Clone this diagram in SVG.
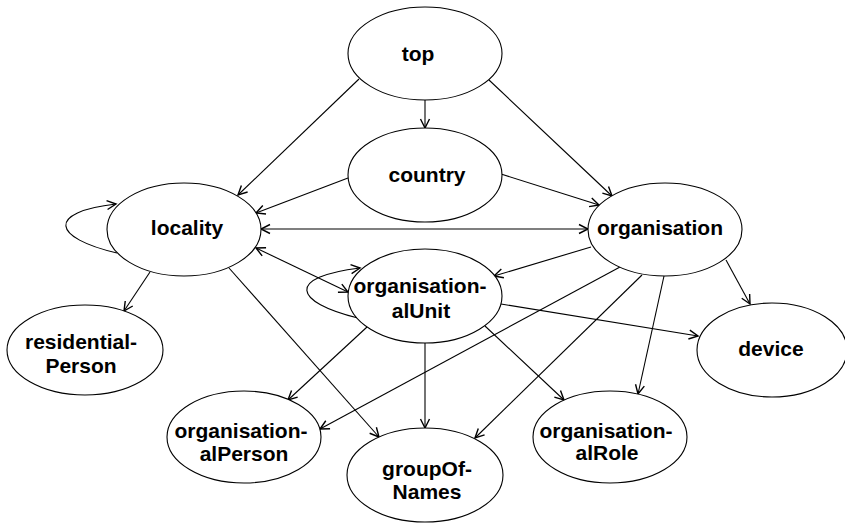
<svg xmlns="http://www.w3.org/2000/svg" width="845" height="523" viewBox="0 0 845 523">
<style>
.n ellipse{fill:#fff;stroke:#000;stroke-width:1.1}
.n text{font-family:"Liberation Sans",Arial,Helvetica,sans-serif;font-weight:bold;font-size:21px;text-anchor:middle;fill:#000}
.e path{fill:none;stroke:#000;stroke-width:1.1}
</style>
<defs>
<marker id="a" markerUnits="userSpaceOnUse" markerWidth="14" markerHeight="12" viewBox="-11 -6 13 12" refX="0" refY="0" orient="auto-start-reverse">
<path d="M-9,-4.5 L0,0 L-9,4.5" fill="none" stroke="#000" stroke-width="1.4"/>
</marker>
</defs>
<rect width="845" height="523" fill="#fff"/>
<g id="connectors" class="e">
<path d="M425,100 L425,128" marker-end="url(#a)"/>
<path d="M359,79 L238,195" marker-end="url(#a)"/>
<path d="M489,80 L612,196" marker-end="url(#a)"/>
<path d="M348,178 L256,213" marker-end="url(#a)"/>
<path d="M501,174 L599,205" marker-end="url(#a)"/>
<path d="M261,229 L588,229" marker-start="url(#a)" marker-end="url(#a)"/>
<path d="M256,248 L348,292" marker-start="url(#a)" marker-end="url(#a)"/>
<path d="M117,253 C52,238 46,212 116,204" marker-end="url(#a)"/>
<path d="M358,318 C293,302 286,277 360,268" marker-end="url(#a)"/>
<path d="M591,247 L494,276" marker-end="url(#a)"/>
<path d="M726,260 L750,304" marker-end="url(#a)"/>
<path d="M620,267 L320,429" marker-end="url(#a)"/>
<path d="M642,275 L475,438" marker-end="url(#a)"/>
<path d="M664,276 L638,394" marker-end="url(#a)"/>
<path d="M501,304 L698,336" marker-end="url(#a)"/>
<path d="M367,327 L288,400" marker-end="url(#a)"/>
<path d="M425,343 L425,428" marker-end="url(#a)"/>
<path d="M485,326 L564,400" marker-end="url(#a)"/>
<path d="M150,272 L124,311" marker-end="url(#a)"/>
<path d="M229,268 L379,437" marker-end="url(#a)"/>
</g>
<g id="top" class="n"><ellipse cx="425" cy="53.5" rx="77" ry="46.5"/><text x="418" y="61">top</text></g>
<g id="country" class="n"><ellipse cx="425" cy="175" rx="77" ry="47"/><text x="427" y="182">country</text></g>
<g id="locality" class="n"><ellipse cx="184" cy="229.5" rx="77" ry="46.5"/><text x="187" y="235">locality</text></g>
<g id="organisation" class="n"><ellipse cx="665" cy="229.5" rx="77" ry="46.5"/><text x="660" y="235">organisation</text></g>
<g id="organisationalUnit" class="n"><ellipse cx="425" cy="296" rx="77" ry="47"/><text x="420" y="293">organisation-</text><text x="421" y="318">alUnit</text></g>
<g id="residentialPerson" class="n"><ellipse cx="85" cy="350" rx="78" ry="45"/><text x="81" y="349">residential-</text><text x="81" y="373">Person</text></g>
<g id="device" class="n"><ellipse cx="772" cy="350" rx="75" ry="47"/><text x="771" y="356">device</text></g>
<g id="organisationalPerson" class="n"><ellipse cx="244" cy="437" rx="77" ry="46"/><text x="241" y="438">organisation-</text><text x="244" y="461">alPerson</text></g>
<g id="groupOfNames" class="n"><ellipse cx="425" cy="475" rx="78" ry="47"/><text x="427" y="476">groupOf-</text><text x="427" y="499">Names</text></g>
<g id="organisationalRole" class="n"><ellipse cx="610" cy="437" rx="77" ry="46"/><text x="606" y="438">organisation-</text><text x="607" y="460">alRole</text></g>
</svg>
